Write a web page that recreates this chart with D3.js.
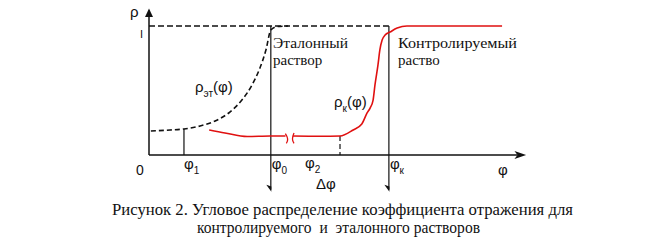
<!DOCTYPE html>
<html>
<head>
<meta charset="utf-8">
<script src="https://cdn.jsdelivr.net/npm/d3@7"></script>
<style>
  body { margin: 0; background: #fff; }
  svg { display: block; }
  .serif { font-family: "Liberation Serif", "DejaVu Serif", serif; fill: #111; }
  .sans { font-family: "Liberation Sans", Arial, sans-serif; fill: #111; }
</style>
</head>
<body>
<div id="chart"></div>
<script>
// Reference curve (etalon), dashed black
const phiEt = [0.05, 0.56, 0.93, 1.36, 1.76, 2.15, 2.47, 2.74, 2.95, 3.11, 3.24, 3.40, 3.70];
const rhoEt = [0.186, 0.194, 0.202, 0.225, 0.264, 0.333, 0.426, 0.543, 0.674, 0.814, 0.969, 0.995, 1.0];

// Controlled curve, red, drawn in two parts around the axis break
const phiK1 = [1.60, 2.02, 2.61, 3.22, 3.63];
const rhoK1 = [0.194, 0.171, 0.143, 0.147, 0.147];
const phiK2 = [3.83, 4.55, 5.08, 5.43, 5.66, 5.80, 5.88, 5.96, 6.01, 6.09, 6.14, 6.20, 6.28, 6.41, 6.60, 6.86, 9.39];
const rhoK2 = [0.147, 0.145, 0.147, 0.194, 0.240, 0.326, 0.364, 0.426, 0.543, 0.698, 0.814, 0.891, 0.930, 0.953, 0.984, 1.0, 1.0];

// Marked angles
const phi1 = 0.93, phi0 = 3.24, phi2 = 5.08, phiK = 6.38;
const rhoAtPhi1 = 0.202, rhoAtPhi2 = 0.147;
const breakPhi = [3.68, 3.83];

const caption = [
    "Рисунок 2. Угловое распределение коэффициента отражения для",
    "контролируемого  и  эталонного растворов"
];

const width = 653, height = 249;

const x = d3.scaleLinear().domain([0, 10]).range([149, 525]);
const y = d3.scaleLinear().domain([0, 1]).range([155, 26]);

const svg = d3.select("#chart").append("svg")
    .attr("width", width)
    .attr("height", height);

const line = d3.line()
    .x(d => x(d[0]))
    .y(d => y(d[1]))
    .curve(d3.curveMonotoneX);

// dashed level rho = 1
svg.append("line")
    .attr("x1", x(0)).attr("x2", x(phiK))
    .attr("y1", y(1)).attr("y2", y(1))
    .attr("stroke", "#111").attr("stroke-width", 1.4)
    .attr("stroke-dasharray", "6,3");

// axes
svg.append("line")
    .attr("x1", x(0)).attr("x2", x(0))
    .attr("y1", y(0)).attr("y2", y(1.12))
    .attr("stroke", "#111").attr("stroke-width", 1.5);
svg.append("path")
    .attr("d", `M${x(0)},${y(1.135)} L${x(0) - 4},${y(1.07)} L${x(0) + 4},${y(1.07)} Z`)
    .attr("fill", "#111");

svg.append("line")
    .attr("x1", x(0)).attr("x2", x(9.8))
    .attr("y1", y(0)).attr("y2", y(0))
    .attr("stroke", "#111").attr("stroke-width", 1.5);
svg.append("path")
    .attr("d", `M${x(10.03)},${y(0)} L${x(9.72)},${y(0) - 4} L${x(9.8)},${y(0)} L${x(9.72)},${y(0) + 4} Z`)
    .attr("fill", "#111");

// vertical markers
svg.append("line")
    .attr("x1", x(phi1)).attr("x2", x(phi1))
    .attr("y1", y(rhoAtPhi1)).attr("y2", y(0))
    .attr("stroke", "#111").attr("stroke-width", 1.2);

svg.append("line")
    .attr("x1", x(phi2)).attr("x2", x(phi2))
    .attr("y1", y(rhoAtPhi2)).attr("y2", y(0))
    .attr("stroke", "#111").attr("stroke-width", 1.2)
    .attr("stroke-dasharray", "5,3");

[phi0, phiK].forEach(p => {
    svg.append("line")
        .attr("x1", x(p)).attr("x2", x(p))
        .attr("y1", y(1)).attr("y2", y(-0.27))
        .attr("stroke", "#111").attr("stroke-width", 1.2);
    svg.append("path")
        .attr("d", `M${x(p) + 0.5},${y(-0.285)} L${x(p) - 4.5},${y(-0.23)} L${x(p) + 0.5},${y(-0.245)} Z`)
        .attr("fill", "#111");
});

// etalon curve
svg.append("path")
    .datum(d3.zip(phiEt, rhoEt))
    .attr("d", line)
    .attr("fill", "none")
    .attr("stroke", "#111").attr("stroke-width", 1.6)
    .attr("stroke-dasharray", "5,3");

// controlled curve
[[phiK1, rhoK1], [phiK2, rhoK2]].forEach(([px, py]) => {
    svg.append("path")
        .datum(d3.zip(px, py))
        .attr("d", line)
        .attr("fill", "none")
        .attr("stroke", "#e01010").attr("stroke-width", 1.6);
});

// break marks
svg.append("path")
    .attr("d", `M${x(breakPhi[0]) - 2},${y(0.165)} Q${x(breakPhi[0]) + 2},${y(0.12)} ${x(breakPhi[0]) - 1},${y(0.09)}`)
    .attr("fill", "none").attr("stroke", "#e01010").attr("stroke-width", 1.3);
svg.append("path")
    .attr("d", `M${x(breakPhi[1]) + 1},${y(0.17)} Q${x(breakPhi[1]) - 2},${y(0.12)} ${x(breakPhi[1]) + 1},${y(0.09)}`)
    .attr("fill", "none").attr("stroke", "#e01010").attr("stroke-width", 1.3);

// axis labels
svg.append("text").attr("class", "sans").attr("x", 130).attr("y", 17)
    .attr("font-size", 15).text("ρ");
svg.append("text").attr("class", "sans").attr("x", 140).attr("y", 38)
    .attr("font-size", 11).text("I");
svg.append("text").attr("class", "sans").attr("x", 136).attr("y", 175)
    .attr("font-size", 14).text("0");
svg.append("text").attr("class", "sans").attr("x", 498).attr("y", 175)
    .attr("font-size", 15).text("φ");

function phiLabel(px, py, sub) {
    const t = svg.append("text").attr("class", "sans").attr("x", px).attr("y", py).attr("font-size", 15);
    t.append("tspan").text("φ");
    t.append("tspan").attr("font-size", 10).attr("dy", 5).text(sub);
}
phiLabel(x(phi1), 169, "1");
phiLabel(x(phi0) + 1, 169, "0");
phiLabel(305, 168, "2");
phiLabel(x(phiK) + 1, 169, "к");

svg.append("text").attr("class", "sans").attr("x", 316).attr("y", 189)
    .attr("font-size", 15).text("Δφ");

// curve labels
const lEt = svg.append("text").attr("class", "sans").attr("x", 195).attr("y", 92).attr("font-size", 15);
lEt.append("tspan").text("ρ");
lEt.append("tspan").attr("font-size", 10).attr("dy", 5).text("эт");
lEt.append("tspan").attr("dy", -5).text("(φ)");

const lK = svg.append("text").attr("class", "sans").attr("x", 334).attr("y", 107).attr("font-size", 15);
lK.append("tspan").text("ρ");
lK.append("tspan").attr("font-size", 10).attr("dy", 5).text("к");
lK.append("tspan").attr("dy", -5).text("(φ)");

// solution labels
svg.append("text").attr("class", "serif").attr("x", 273).attr("y", 48)
    .attr("font-size", 15).attr("textLength", 75).attr("lengthAdjust", "spacingAndGlyphs").text("Эталонный");
svg.append("text").attr("class", "serif").attr("x", 273).attr("y", 65)
    .attr("font-size", 15).text("раствор");
svg.append("text").attr("class", "serif").attr("x", 398).attr("y", 48)
    .attr("font-size", 15).attr("textLength", 119).attr("lengthAdjust", "spacingAndGlyphs").text("Контролируемый");
svg.append("text").attr("class", "serif").attr("x", 398).attr("y", 65)
    .attr("font-size", 15).text("раство");

// caption
svg.append("text").attr("class", "serif").attr("x", 112).attr("y", 215)
    .attr("font-size", 17).attr("fill", "#000").attr("textLength", 461).attr("lengthAdjust", "spacingAndGlyphs")
    .text(caption[0]);
svg.append("text").attr("class", "serif").attr("x", 197).attr("y", 233)
    .attr("font-size", 17).attr("textLength", 283).attr("lengthAdjust", "spacingAndGlyphs")
    .style("white-space", "pre")
    .text(caption[1]);
</script>
</body>
</html>
